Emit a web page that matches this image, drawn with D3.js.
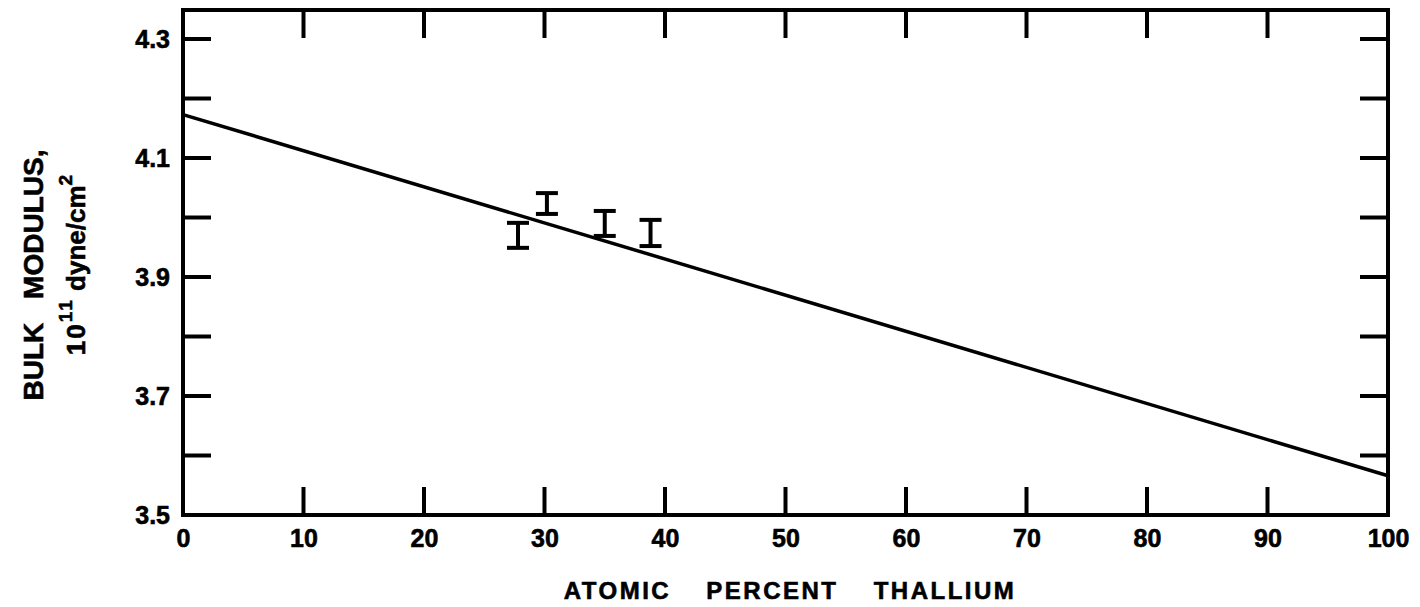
<!DOCTYPE html>
<html><head><meta charset="utf-8">
<script src="https://cdn.jsdelivr.net/npm/d3@7"></script>
<style>body{margin:0;background:#fff}svg{display:block}text{stroke:#000;stroke-width:0.6px}</style>
</head><body>
<script>
// Data
const xTicks = [0,10,20,30,40,50,60,70,80,90,100];
const yTickLabels = [3.5,3.7,3.9,4.1,4.3];
const yMinorTicks = [3.6,3.8,4.0,4.2];
const fitX = [0,100];
const fitY = [4.173,3.566];
const ptX = [27.8,30.2,35.0,38.8];
const ptLow = [3.949,4.006,3.969,3.952];
const ptHigh = [3.991,4.041,4.011,3.996];

const W=1420,H=607;
const L=183,R=1388,T=10,B=515;
const x=d3.scaleLinear().domain([0,100]).range([L,R]);
const y=d3.scaleLinear().domain([3.5,4.3]).range([B,39]);

const svg=d3.select("body").append("svg").attr("width",W).attr("height",H);
const font="'Liberation Sans', Arial, sans-serif";
const ink="#000";

// frame
svg.append("rect").attr("x",L).attr("y",T).attr("width",R-L).attr("height",B-T)
  .attr("fill","none").attr("stroke",ink).attr("stroke-width",4);

const tk=28;
// bottom axis
const xAxis=d3.axisBottom(x).tickValues(xTicks).tickSize(0).tickPadding(14).tickFormat(d3.format("d"));
const gx=svg.append("g").attr("transform",`translate(0,${B})`).call(xAxis);
gx.select(".domain").remove();
gx.selectAll("text").attr("font-family",font).attr("font-weight","bold").attr("font-size",25).attr("fill",ink);
const inner=xTicks.filter(d=>d>0&&d<100);
svg.append("g").selectAll("line.b").data(inner).join("line")
  .attr("x1",d=>x(d)).attr("x2",d=>x(d)).attr("y1",B).attr("y2",B-tk)
  .attr("stroke",ink).attr("stroke-width",4);
svg.append("g").selectAll("line.t").data(inner).join("line")
  .attr("x1",d=>x(d)).attr("x2",d=>x(d)).attr("y1",T).attr("y2",T+tk)
  .attr("stroke",ink).attr("stroke-width",4);

// left axis
const yAxis=d3.axisLeft(y).tickValues(yTickLabels).tickSize(0).tickPadding(13).tickFormat(d3.format(".1f"));
const gy=svg.append("g").attr("transform",`translate(${L},0)`).call(yAxis);
gy.select(".domain").remove();
gy.selectAll("text").attr("font-family",font).attr("font-weight","bold").attr("font-size",25).attr("fill",ink);
const yAll=yTickLabels.concat(yMinorTicks).filter(d=>d>3.5);
svg.append("g").selectAll("line").data(yAll).join("line")
  .attr("x1",L).attr("x2",L+tk).attr("y1",d=>y(d)).attr("y2",d=>y(d))
  .attr("stroke",ink).attr("stroke-width",4);
svg.append("g").selectAll("line").data(yAll).join("line")
  .attr("x1",R).attr("x2",R-tk).attr("y1",d=>y(d)).attr("y2",d=>y(d))
  .attr("stroke",ink).attr("stroke-width",4);

// fit line
const lineGen=d3.line().x(d=>x(d[0])).y(d=>y(d[1]));
svg.append("path").datum(fitX.map((v,i)=>[v,fitY[i]])).attr("d",lineGen)
  .attr("fill","none").attr("stroke",ink).attr("stroke-width",3.5);

// error bars
const cap=11;
const eb=svg.append("g").attr("stroke",ink).attr("stroke-width",4);
ptX.forEach((v,i)=>{
  eb.append("line").attr("x1",x(v)).attr("x2",x(v)).attr("y1",y(ptLow[i])).attr("y2",y(ptHigh[i]));
  eb.append("line").attr("x1",x(v)-cap).attr("x2",x(v)+cap).attr("y1",y(ptLow[i])).attr("y2",y(ptLow[i]));
  eb.append("line").attr("x1",x(v)-cap).attr("x2",x(v)+cap).attr("y1",y(ptHigh[i])).attr("y2",y(ptHigh[i]));
});

// x title
svg.append("text").attr("x",790).attr("y",599).attr("text-anchor","middle")
  .attr("font-family",font).attr("font-weight","bold").attr("font-size",24)
  .attr("word-spacing",26).attr("letter-spacing",2.5).attr("fill",ink)
  .text("ATOMIC PERCENT THALLIUM");

// y title
const yt=svg.append("g").attr("transform","translate(43,275) rotate(-90)");
yt.append("text").attr("text-anchor","middle").attr("font-family",font).attr("font-weight","bold")
  .attr("font-size",28).attr("word-spacing",16).attr("fill",ink).text("BULK MODULUS,");
const t2=yt.append("text").attr("x",10).attr("y",42).attr("text-anchor","middle").attr("font-family",font)
  .attr("font-weight","bold").attr("font-size",26).attr("fill",ink);
t2.append("tspan").attr("letter-spacing",2).text("10");
t2.append("tspan").attr("dy",-13).attr("font-size",19).attr("letter-spacing",2).text("11");
t2.append("tspan").attr("dy",13).text(" dyne/cm");
t2.append("tspan").attr("dy",-13).attr("font-size",19).text("2");
</script>
</body></html>
